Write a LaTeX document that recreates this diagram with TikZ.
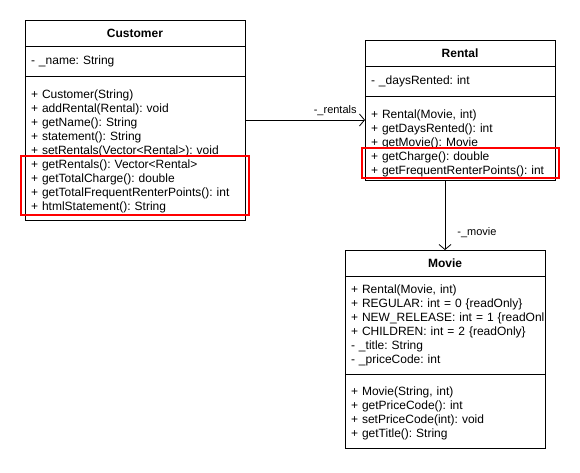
\documentclass[tikz,border=0pt]{standalone}
\usepackage{fontspec}
\setmainfont{Liberation Sans}
\usetikzlibrary{arrows.meta,positioning}

\begin{document}
\begin{tikzpicture}[x=1pt,y=-1pt]
		% Styles
		\tikzstyle{boite}=[draw,line width=0.8pt,inner xsep=6pt,inner ysep=0pt,outer sep=0pt,font=\fontsize{12}{14}\selectfont\frenchspacing]
		\tikzstyle{titre}=[boite,anchor=north,minimum height=26pt,font=\fontsize{12}{14}\selectfont\bfseries]
		\tikzstyle{liste}=[boite,align=left]
		\tikzstyle{lienAssoc}=[-{Straight Barb[length=5pt,width=12pt]},line width=0.8pt]
		\tikzstyle{etiquette}=[inner sep=1pt,font=\fontsize{11}{13}\selectfont\frenchspacing]
		\tikzstyle{surligne}=[draw=red,line width=1.6pt]
		\tikzset{decale/.style={execute at begin node={\rule{0pt}{#1}}}}
		% Fond
		\fill[white] (0,0) rectangle (580,472);
		% Classe Customer
		\node[titre,minimum width=220pt] (Ct) at (135,20) {Customer};
		\node[liste,below=0pt of Ct,text width=208pt,minimum height=30pt] (Ca) {- \_name: String};
		\node[liste,decale=15.5pt,below=0pt of Ca,text width=208pt,minimum height=144pt] (Cm) {+ Customer(String)\\+ addRental(Rental): void\\+ getName(): String\\+ statement(): String\\+ setRentals(Vector<Rental>): void\\+ getRentals(): Vector<Rental>\\+ getTotalCharge(): double\\+ getTotalFrequentRenterPoints(): int\\+ htmlStatement(): String};
		% Classe Rental
		\node[titre,minimum width=190pt] (Rt) at (460,40) {Rental};
		\node[liste,below=0pt of Rt,text width=178pt,minimum height=30pt] (Ra) {- \_daysRented: int};
		\node[liste,decale=19.5pt,below=0pt of Ra,text width=178pt,minimum height=84pt] (Rm) {+ Rental(Movie, int)\\+ getDaysRented(): int\\+ getMovie(): Movie\\+ getCharge(): double\\+ getFrequentRenterPoints(): int};
		% Classe Movie
		\node[titre,minimum width=200pt] (Mt) at (445,250) {Movie};
		\node[liste,below=0pt of Mt,text width=188pt,minimum height=98pt] (Ma) {+ Rental(Movie, int)\\+ REGULAR: int = 0 \{readOnly\}\\\mbox{+ NEW\_RELEASE: int = 1 \{readOnl}\\+ CHILDREN: int = 2 \{readOnly\}\\- \_title: String\\- \_priceCode: int};
		\node[liste,decale=13.5pt,below=0pt of Ma,text width=188pt,minimum height=74pt] (Mm) {+ Movie(String, int)\\+ getPriceCode(): int\\+ setPriceCode(int): void\\+ getTitle(): String};
		% Liens
		\draw[lienAssoc] ([yshift=-44pt]Cm.north east) -- ([yshift=-24pt]Rm.north west) node[etiquette,pos=1,anchor=south east,xshift=-7pt,yshift=3pt] {-\_rentals};
		\draw[lienAssoc] (Rm.south -| Mt.north) -- (Mt.north) node[etiquette,pos=1,anchor=west,xshift=11pt,yshift=17pt] {-\_movie};
		% Surlignage
		\draw[surligne] (21,156) rectangle (249,215);
		\draw[surligne] (362,148) rectangle (559,178);
\end{tikzpicture}
\end{document}
